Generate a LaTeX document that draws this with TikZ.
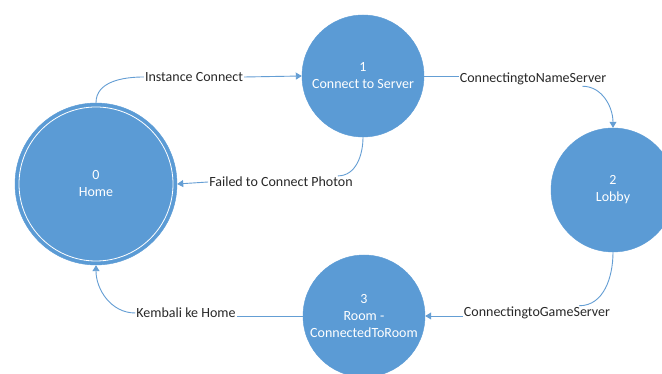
\documentclass[tikz,border=0pt]{standalone}
\usepackage{fontspec}
\setmainfont{Carlito}
\usetikzlibrary{arrows.meta,calc}
\definecolor{stateblue}{RGB}{91,155,213}
\definecolor{lineblue}{RGB}{100,158,212}
\definecolor{labeltext}{RGB}{40,40,40}
\tikzset{
  state/.style={circle, fill=stateblue, draw=stateblue, inner sep=0pt, text=white, align=center, font=\fontsize{14}{17}\selectfont},
  lbl/.style={inner sep=1pt, text=labeltext, font=\fontsize{14}{16}\selectfont},
  conn/.style={draw=lineblue, line width=0.9pt},
  arr/.style={conn, -{Triangle[width=7pt,length=6pt]}}
}
\begin{document}
\begin{tikzpicture}[x=1pt,y=1pt]
\useasboundingbox (0,0) rectangle (662,374);
\clip (0,0) rectangle (662,374);
\fill[white] (0,0) rectangle (662,374);
% states
\node[state, minimum size=162pt] (home) at (96,190) {0\\Home};
\draw[white, line width=0.8pt] (home.center) circle (77pt);
\node[state, minimum size=122pt] (n1) at (363,298) {1\\Connect to Server};
\node[state, minimum size=124pt] (n2) at (613,184) {2\\Lobby};
\node[state, minimum size=122pt] (n3) at (364,58) {3\\Room -\\ConnectedToRoom};
% labels
\node[lbl] (lab1) at (194,297) {Instance Connect};
\node[lbl] (lab2) at (533,295) {ConnectingtoNameServer};
\node[lbl] (lab3) at (537,61) {ConnectingtoGameServer};
\node[lbl] (lab4) at (186,61) {Kembali ke Home};
\node[lbl] (lab5) at (281,192) {Failed to Connect Photon};
% connectors
\draw[conn] (home.north) to[out=90,in=180] (lab1.west);
\draw[arr] (lab1.east) -- (n1.west);
\draw[conn] (n1.east) -- (lab2.west |- n1.east);
\draw[arr] ([xshift=-25pt]lab2.south east) to[out=0,in=90] (n2.north);
\draw[conn] (n2.south) to[out=-90,in=0] ([xshift=-32pt]lab3.north east);
\draw[arr] (lab3.west |- n3.east) -- (n3.east);
\draw[conn] (n3.west) -- (lab4.east |- n3.west);
\draw[arr] (lab4.west) to[out=180,in=-90] (home.south);
\draw[conn] (n1.south) to[out=-90,in=0] ([xshift=-16pt]lab5.north east);
\draw[arr] (lab5.west) -- (home.east);
\end{tikzpicture}
\end{document}
